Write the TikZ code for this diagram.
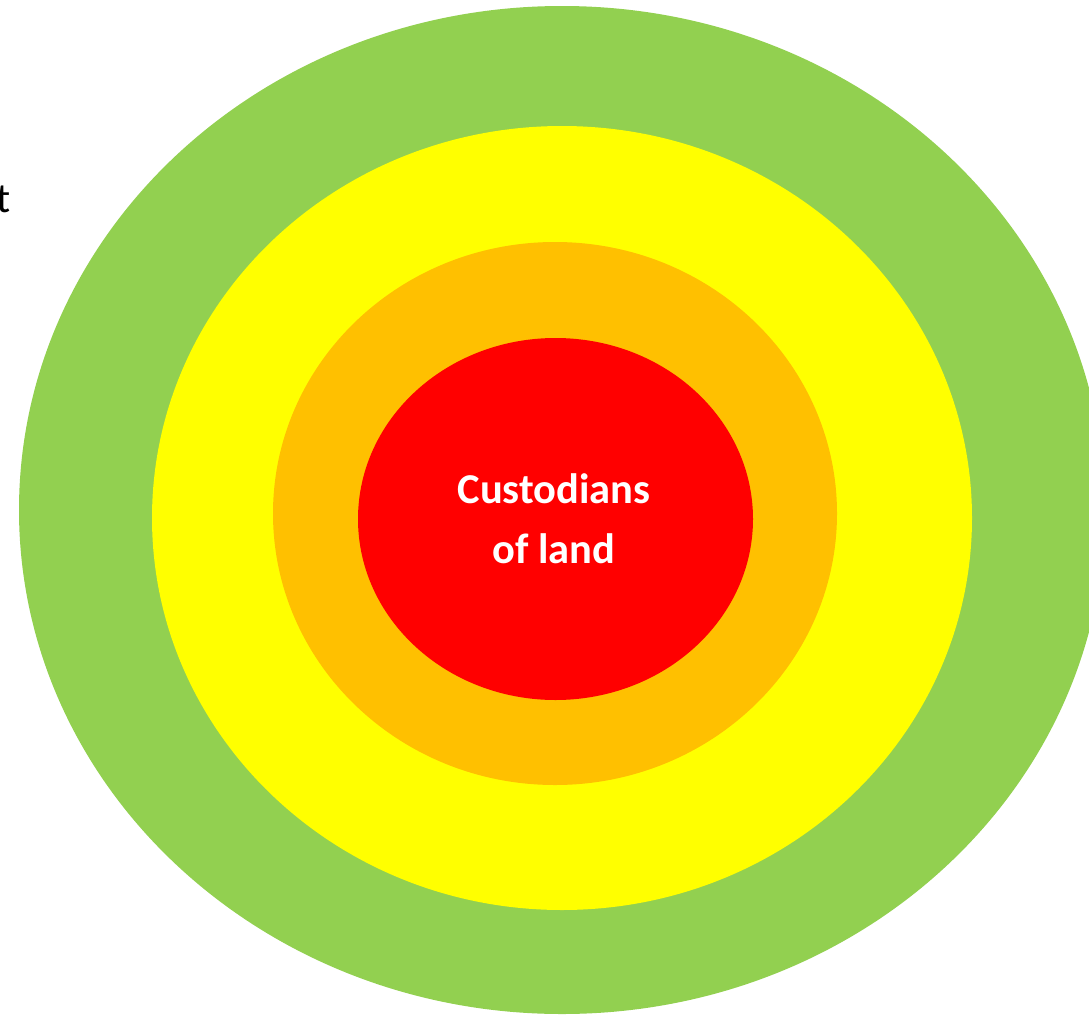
\documentclass[tikz,border=0pt]{standalone}
\usepackage{fontspec}
\setmainfont{Carlito}
\definecolor{ringgreen}{HTML}{92D050}
\definecolor{ringyellow}{HTML}{FFFF00}
\definecolor{ringorange}{HTML}{FFC000}
\definecolor{ringred}{HTML}{FF0000}
\begin{document}
\begin{tikzpicture}[x=1pt,y=-1pt]
\useasboundingbox (0,0) rectangle (1089,1017);
\clip (0,0) rectangle (1089,1017);
\fill[ringgreen] (562,510) ellipse [x radius=543, y radius=504];
\fill[ringyellow] (562,518) ellipse [x radius=410, y radius=392];
\fill[ringorange] (555,513.5) ellipse [x radius=282, y radius=271.5];
\fill[ringred] (555.5,519) ellipse [x radius=197.5, y radius=181];
\node[text=white, font=\bfseries\fontsize{42.5}{60}\selectfont, align=center] (label) at (554,519) {Custodians\\of land};
\node[anchor=base east, inner sep=0pt, font=\fontsize{42}{50}\selectfont] (cut) at (11,212) {t};
\end{tikzpicture}
\end{document}
